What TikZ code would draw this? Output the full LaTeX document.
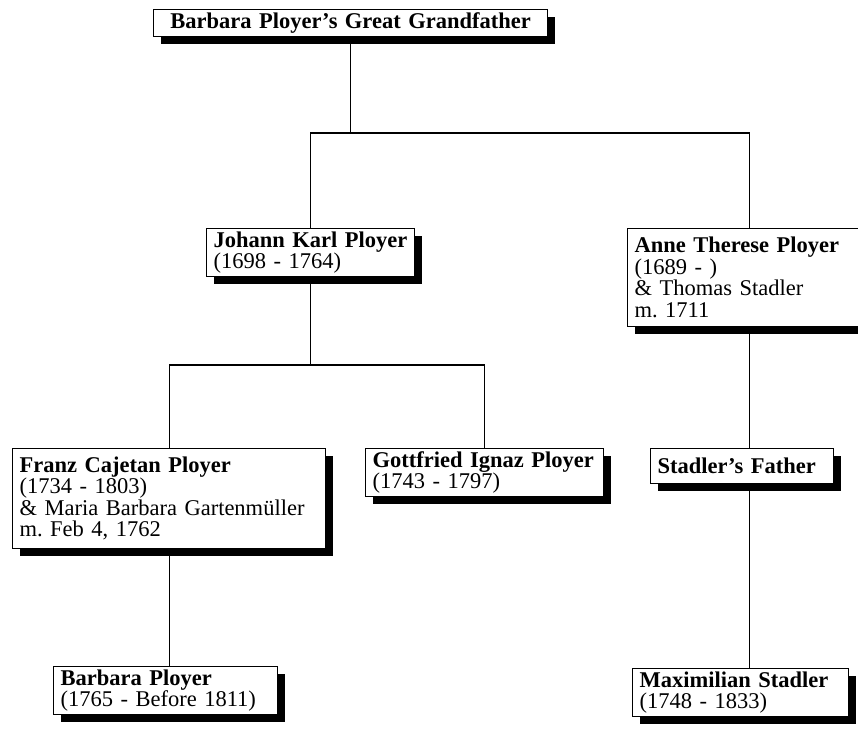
\documentclass[tikz,border=0pt]{standalone}
\usepackage{fontspec}
\setmainfont{Liberation Serif}
\usetikzlibrary{shadows, backgrounds}
\frenchspacing

\begin{document}
\begin{tikzpicture}[x=1pt, y=-1pt, font=\fontsize{22.5}{21.5}\selectfont,
  person/.style={draw, fill=white, line width=1.2pt, align=left, anchor=north west,
    inner xsep=7pt, inner ysep=3pt,
    drop shadow={shadow xshift=7pt, shadow yshift=-7pt, fill=black, opacity=1}},
  link/.style={line width=1.2pt}]

\useasboundingbox (0,0) rectangle (858,730);
\clip (0,0) rectangle (858,730);

\node[person, text width=380pt, minimum height=27pt, align=center] (gg) at (153,9)
  {\textbf{Barbara Ployer's Great Grandfather}};

\node[person, text width=194pt, minimum height=45pt] (johann) at (206,228)
  {\textbf{Johann Karl Ployer}\\(1698 - 1764)};
\node[person, text width=229pt, minimum height=98pt] (anne) at (627,228)
  {\textbf{Anne Therese Ployer}\\(1689 - )\\\& Thomas Stadler\\m. 1711};

\node[person, text width=299pt, minimum height=100pt] (franz) at (12,448)
  {\textbf{Franz Cajetan Ployer}\\(1734 - 1803)\\\& Maria Barbara Gartenmüller\\m. Feb 4, 1762};
\node[person, text width=224pt, minimum height=47pt] (gottfried) at (365,448)
  {\textbf{Gottfried Ignaz Ployer}\\(1743 - 1797)};
\node[person, text width=169pt, minimum height=35pt] (stadlerf) at (650,448)
  {\textbf{Stadler's Father}};

\node[person, text width=210pt, minimum height=47pt] (barbara) at (53,666)
  {\textbf{Barbara Ployer}\\(1765 - Before 1811)};
\node[person, text width=202pt, minimum height=45pt] (maximilian) at (632,668)
  {\textbf{Maximilian Stadler}\\(1748 - 1833)};

\begin{scope}[on background layer]
\coordinate (level1) at (0,133);
\coordinate (level2) at (0,365);
\draw[link] (gg.south) -- (gg.south |- level1);
\draw[link] (johann.north) |- (anne.north |- level1) -- (anne.north);
\draw[link] (johann.south) -- (johann.south |- level2);
\draw[link] (franz.north) |- (gottfried.north |- level2) -- (gottfried.north);
\draw[link] (franz.south) -- (franz.south |- barbara.north);
\draw[link] (anne.south) -- (anne.south |- maximilian.north);
\end{scope}

\end{tikzpicture}
\end{document}
